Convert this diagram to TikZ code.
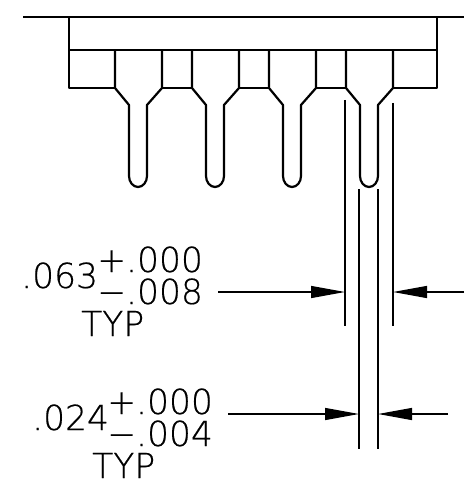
\documentclass[tikz,border=0pt]{standalone}
\usepackage{fontspec}
\setmainfont{DejaVu Sans ExtraLight}[FakeBold=0.5]
\usetikzlibrary{arrows.meta}

\begin{document}
\begin{tikzpicture}[x=1pt,y=-1pt]

\tikzstyle{outline} = [line width=2.2pt, line join=round, black]
\tikzstyle{extension} = [line width=1.3pt, black]
\tikzstyle{dimension} = [-{Triangle[length=34pt,width=12pt]}, line width=1.3pt, black]
\tikzstyle{dimtext} = [anchor=base west, inner sep=0pt, font=\fontsize{34.5}{34.5}\selectfont]

\useasboundingbox (0,0) rectangle (464,484);

%------------------------------------------------------------
	\coordinate (top_l) at (23,17);
	\coordinate (top_r) at (464,17);
	\coordinate (body_tl) at (69,17);
	\coordinate (body_tr) at (437,17);
	\coordinate (body_ml) at (69,50);
	\coordinate (body_mr) at (437,50);

	\draw[outline] (top_l) -- (top_r);
	\draw[outline] (body_tl) -- (body_ml) -- (body_mr) -- (body_tr);

%------------------------------------------------------------
	\draw[outline] (69,50) -- (69,88) -- (115,88);
	\draw[outline] (115,50) -- (115,88) -- (129,105) -- (129,176) .. controls (129,182) and (133,187) .. (138,187) .. controls (143,187) and (147,182) .. (147,176) -- (147,105) -- (162,88) -- (162,50);
	\draw[outline] (162,88) -- (192,88);
	\draw[outline] (192,50) -- (192,88) -- (206,105) -- (206,176) .. controls (206,182) and (210,187) .. (215,187) .. controls (220,187) and (224,182) .. (224,176) -- (224,105) -- (239,88) -- (239,50);
	\draw[outline] (239,88) -- (269,88);
	\draw[outline] (269,50) -- (269,88) -- (283,105) -- (283,176) .. controls (283,182) and (287,187) .. (292,187) .. controls (297,187) and (301,182) .. (301,176) -- (301,105) -- (316,88) -- (316,50);
	\draw[outline] (316,88) -- (346,88);
	\draw[outline] (346,50) -- (346,88) -- (360,105) -- (360,176) .. controls (360,182) and (364,187) .. (369,187) .. controls (374,187) and (378,182) .. (378,176) -- (378,105) -- (393,88) -- (393,50);
	\draw[outline] (393,88) -- (437,88) -- (437,50);

%------------------------------------------------------------
	\coordinate (ext_a1) at (345,100);
	\coordinate (ext_a2) at (345,326);
	\coordinate (ext_b1) at (393,103);
	\coordinate (ext_b2) at (393,326);
	\coordinate (ext_c1) at (359,189);
	\coordinate (ext_c2) at (359,449);
	\coordinate (ext_d1) at (378,189);
	\coordinate (ext_d2) at (378,449);

	\draw[extension] (ext_a1) -- (ext_a2);
	\draw[extension] (ext_b1) -- (ext_b2);
	\draw[extension] (ext_c1) -- (ext_c2);
	\draw[extension] (ext_d1) -- (ext_d2);

%------------------------------------------------------------
	\node[dimtext] (wide_val) at (21,288) {.063};
	\node[dimtext] (wide_up) at (97,272) {+.000};
	\node[dimtext] (wide_lo) at (97,304) {\textminus.008};
	\node[dimtext] (wide_typ) at (81,336) {TYP};

	\node[dimtext] (thin_val) at (32,430) {.024};
	\node[dimtext] (thin_up) at (107,414) {+.000};
	\node[dimtext] (thin_lo) at (107,446) {\textminus.004};
	\node[dimtext] (thin_typ) at (92,478) {TYP};

%------------------------------------------------------------
	\coordinate (wide_l) at (218,292);
	\coordinate (wide_al) at (345,292);
	\coordinate (wide_r) at (464,292);
	\coordinate (wide_ar) at (393,292);
	\coordinate (thin_l) at (228,414);
	\coordinate (thin_al) at (359,414);
	\coordinate (thin_r) at (448,414);
	\coordinate (thin_ar) at (378,414);

	\path[dimension] (wide_l) edge (wide_al);
	\path[dimension] (wide_r) edge (wide_ar);
	\path[dimension] (thin_l) edge (thin_al);
	\path[dimension] (thin_r) edge (thin_ar);

\end{tikzpicture}
\end{document}
